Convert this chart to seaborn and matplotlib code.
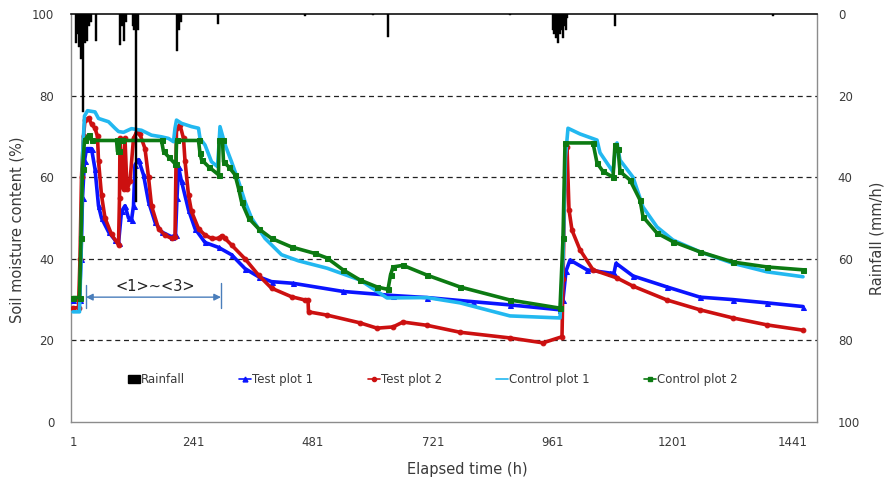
import numpy as np
import pandas as pd
import matplotlib
matplotlib.use("Agg")
import matplotlib.pyplot as plt
import seaborn as sns
from matplotlib.lines import Line2D
from matplotlib.patches import Patch

# ---------------- data ----------------
x_ticks = [1, 241, 481, 721, 961, 1201, 1441]
y_ticks = [0, 20, 40, 60, 80, 100]

rain_h = [7, 11, 13, 17, 21, 25, 29, 33, 37, 47, 95, 99, 103, 107, 121, 123, 127, 131,
          209, 213, 217, 291, 465, 601, 631, 875,
          961, 963, 965, 967, 969, 971, 973, 975, 977, 979, 981, 983, 985, 987, 989,
          1085, 1401]
rain_v = [7, 5, 8, 11, 24, 7, 6.5, 3, 2, 6.5, 7.5, 3, 6.5, 2, 3, 4, 46, 4,
          9, 4, 2, 2.5, 0.5, 0.3, 5.6, 0.3,
          4, 5, 3, 6, 5, 7, 4, 5, 3, 4, 6, 3, 2, 4, 1,
          3, 0.5]

t1_h = [1, 14, 17, 20, 24, 28, 38, 45, 52, 58, 72, 85, 92, 98, 105, 112, 118, 122, 125,
        132, 142, 152, 165, 178, 198, 206, 209, 212, 218, 232, 245, 265, 292, 318, 345,
        372, 398, 441, 541, 641, 709, 800, 875, 975, 981, 987, 995, 1029, 1075, 1083,
        1087, 1121, 1189, 1255, 1321, 1389, 1461]
t1_v = [30, 30, 40, 55, 64, 67, 67, 62, 53, 50, 46.6, 44.6, 43.8, 51.6, 53, 50, 49.5, 53, 63,
        64.3, 60.6, 54, 49, 46.6, 45.4, 45.8, 55, 62.5, 59, 52, 47.4, 44, 42.8, 41, 37.6,
        35.6, 34.4, 34, 32, 31, 30.5, 29.5, 28.7, 27.5, 30, 37, 39.7, 37.3, 36.5, 36.5,
        38.9, 35.8, 33.1, 30.6, 30, 29.2, 28.3]

t2_h = [1, 12, 15, 18, 22, 25, 32, 38, 45, 50, 52, 58, 65, 78, 92, 94, 95, 98, 102, 105,
        109, 115, 122, 128, 135, 145, 152, 158, 172, 185, 198, 205, 208, 215, 222, 225,
        232, 238, 252, 265, 278, 292, 298, 305, 318, 345, 372, 398, 438, 465, 471, 472,
        509, 575, 609, 641, 661, 709, 775, 875, 941, 979, 981, 985, 989, 993, 999, 1015,
        1041, 1089, 1121, 1189, 1255, 1321, 1389, 1461]
t2_v = [28, 28, 40, 60, 70, 74, 74.5, 73, 72, 70, 64, 55.6, 50, 46, 43.4, 55, 69.5, 64, 57, 69.5,
        57, 59, 69.5, 71, 70.5, 67, 60, 53, 47.4, 45.8, 45, 45.4, 72, 72.8, 69.5, 64,
        55.6, 51.6, 47.4, 45.8, 45, 45, 45.6, 45, 43.4, 40, 36, 32.8, 30.7, 29.9, 29.9, 27,
        26.2, 24.3, 23, 23.3, 24.5, 23.7, 22, 20.6, 19.4, 20.9, 35, 60, 67.5, 52, 47, 42.2,
        37.3, 35.3, 33.3, 29.9, 27.5, 25.5, 23.8, 22.5]

c1_h = [1, 14, 17, 20, 24, 30, 45, 52, 72, 85, 92, 102, 118, 138, 158, 178, 192, 202, 205,
        208, 218, 238, 252, 255, 265, 278, 290, 293, 295, 305, 318, 332, 345, 358, 385,
        418, 452, 509, 575, 629, 709, 775, 875, 975, 981, 986, 991, 1015, 1049, 1055,
        1081, 1085, 1089, 1095, 1121, 1141, 1169, 1201, 1255, 1321, 1389, 1461]
c1_v = [27, 27, 40, 65, 75, 76.3, 76, 74.4, 73.6, 72, 71.2, 71, 71.9, 71.5, 70.3, 69.9, 69.5, 68.7, 72,
        74, 73.2, 72.4, 72, 69.5, 67.9, 63.8, 62.6, 68, 72.4, 68, 63.8, 59, 54, 50, 45,
        41, 39.5, 37.7, 34.8, 30.4, 30.5, 29.2, 26, 25.5, 40, 65, 72, 70.6, 69.1, 66,
        61.3, 66, 68.4, 64.2, 60, 52.7, 47.8, 44.6, 41.7, 38.9, 36.8, 35.6]

c2_h = [1, 14, 17, 20, 24, 32, 38, 88, 90, 92, 95, 98, 178, 182, 192, 205, 207, 208, 252,
        255, 258, 272, 292, 293, 300, 302, 312, 325, 332, 338, 352, 372, 398, 438, 485,
        509, 541, 575, 609, 631, 636, 641, 661, 709, 775, 875, 975, 981, 985, 1041, 1049,
        1061, 1081, 1085, 1091, 1095, 1115, 1135, 1141, 1169, 1201, 1255, 1321, 1389, 1461]
c2_v = [30.5, 30.5, 45, 62, 69, 70.3, 69, 69, 66.3, 66.3, 69, 69, 69, 66.3, 65, 63.3, 63.3, 69, 69,
        65.9, 64.3, 62.6, 60.6, 69, 69, 63.8, 62.6, 60.6, 57.3, 54, 50, 47.4, 45, 42.9, 41.3,
        40.2, 37.3, 34.8, 33.1, 32.5, 36, 38, 38.4, 36, 33.1, 29.9, 27.9, 45, 68.4, 68.4, 63.5,
        61.4, 60, 68, 67, 61.4, 59.3, 54.4, 50.3, 46.3, 44.2, 41.7, 39.2, 38, 37.3]

series_names = ["Test plot 1", "Test plot 2", "Control plot 1", "Control plot 2"]

# ---------------- styling ----------------
sns.set_theme(style="white")
plt.rcParams["font.family"] = ["DejaVu Sans"]

C_BLUE = "#0a14ff"
C_RED = "#cc1010"
C_CYAN = "#22b8f0"
C_GREEN = "#0c7a12"
GRAY = "#8c8c8c"
TXT = "#3a3a3a"

fig = plt.figure(figsize=(8.93, 4.95), dpi=100)
ax = fig.add_axes([71 / 893, 1 - 422 / 495, 746 / 893, 408 / 495])

styles = [
    (t1_h, t1_v, C_BLUE, "^", 3.6),
    (t2_h, t2_v, C_RED, "o", 3.4),
    (c1_h, c1_v, C_CYAN, None, 0),
    (c2_h, c2_v, C_GREEN, "s", 3.6),
]
order = [2, 3, 0, 1]
for i in order:
    h, v, col, mk, ms = styles[i]
    df = pd.DataFrame({"h": h, "v": v})
    kw = dict(marker=mk, markersize=ms, markeredgecolor=col, markerfacecolor=col) if mk else {}
    sns.lineplot(data=df, x="h", y="v", ax=ax, color=col, linewidth=2.6,
                 sort=False, estimator=None, legend=False, zorder=3 + i, **kw)

ax.set_xlim(-3, 1489)
ax.set_ylim(0, 100)
ax.set_xticks(x_ticks)
ax.set_xticklabels([str(t) for t in x_ticks])
ax.set_xticks(np.arange(1, 1489, 24), minor=True)
ax.set_yticks(y_ticks)
for yv in y_ticks[1:-1]:
    ax.axhline(yv, color="#222222", linestyle=(0, (4, 3)), linewidth=0.9, zorder=1)

ax.tick_params(axis="x", which="major", direction="in", length=4, color=GRAY,
               labelsize=8.5, labelcolor=TXT, pad=10)
ax.tick_params(axis="x", which="minor", direction="in", length=3, color=GRAY)
ax.tick_params(axis="y", which="major", length=0, labelsize=8.5, labelcolor=TXT, pad=12)

for s in ["left", "bottom", "right"]:
    ax.spines[s].set_color(GRAY)
    ax.spines[s].set_linewidth(1.0)
ax.spines["top"].set_color("#111111")
ax.spines["top"].set_linewidth(1.2)

ax.set_xlabel("Elapsed time (h)", fontsize=10.5, color=TXT)
ax.set_ylabel("Soil moisture content (%)", fontsize=10.5, color=TXT)
ax.xaxis.set_label_coords(0.531, -0.098)
ax.yaxis.set_label_coords(-0.062, 0.47)

# rainfall on a reversed secondary axis
ax2 = ax.twinx()
ax2.bar(rain_h, rain_v, width=2.2, color="black", edgecolor="black", linewidth=0.3, zorder=5)
ax2.set_ylim(100, 0)
ax2.set_yticks(y_ticks)
ax2.tick_params(axis="y", length=0, labelsize=8.5, labelcolor=TXT, pad=15)
ax2.set_ylabel("Rainfall (mm/h)", fontsize=10.5, color=TXT)
ax2.yaxis.set_label_coords(1.07, 0.45)
for s in ax2.spines.values():
    s.set_visible(False)
ax2.grid(False)
ax.grid(False)

# <1>~<3> annotation
ANN = "#4a7ebb"
ax.annotate("", xy=(27, 30.6), xytext=(297, 30.6),
            arrowprops=dict(arrowstyle="<|-|>", color=ANN, lw=1.0, mutation_scale=10,
                            shrinkA=0, shrinkB=0), zorder=6)
ax.plot([27, 27], [28.0, 33.6], color=ANN, lw=1.0, zorder=6)
ax.plot([297, 297], [28.0, 34.0], color=ANN, lw=1.0, zorder=6)
ax.text(165, 33.2, "<1>~<3>", ha="center", va="center", fontsize=10.5, color="#222222",
        zorder=6)

# legend
handles = [
    Patch(facecolor="black", edgecolor="black"),
    Line2D([], [], color=C_BLUE, marker="^", markersize=3.5, lw=1.2),
    Line2D([], [], color=C_RED, marker="o", markersize=3.0, lw=1.2),
    Line2D([], [], color=C_CYAN, lw=1.2),
    Line2D([], [], color=C_GREEN, marker="s", markersize=3.0, lw=1.2),
]
labels = ["Rainfall"] + series_names
leg = ax2.legend(handles, labels, loc="center", bbox_to_anchor=(0.485, 0.103), ncol=5,
                 frameon=False, fontsize=8.5, handlelength=1.0, handletextpad=0.1,
                 columnspacing=4.6, handleheight=0.7)
for t in leg.get_texts():
    t.set_color(TXT)

fig.savefig("out.png", dpi=100, facecolor="white")
